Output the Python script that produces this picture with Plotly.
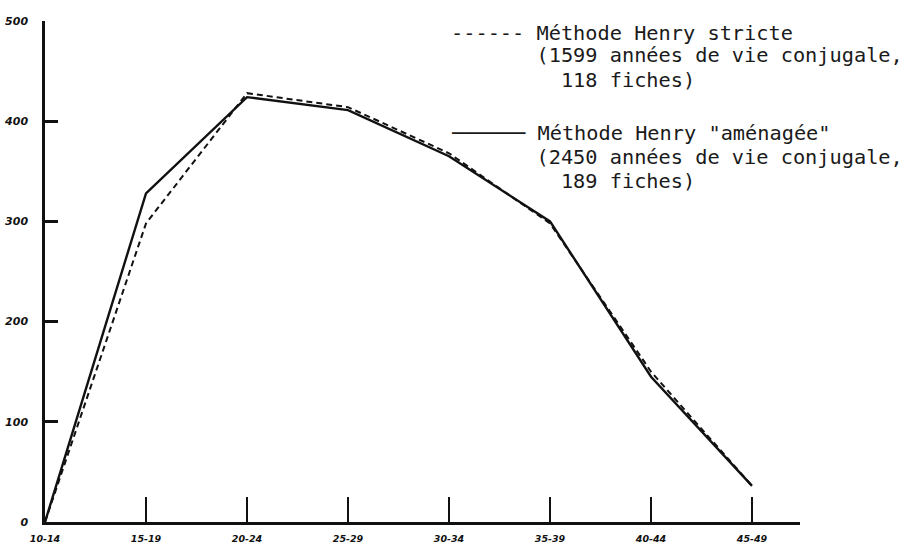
import plotly.graph_objects as go

age_groups = ["10-14", "15-19", "20-24", "25-29", "30-34", "35-39", "40-44", "45-49"]
stricte = [0, 298, 428, 414, 368, 298, 150, 36]
amenagee = [0, 328, 424, 411, 365, 300, 145, 36]
y_ticks = [0, 100, 200, 300, 400, 500]

legend_lines = [
    "------\u00a0Méthode Henry stricte",
    "\u00a0\u00a0\u00a0\u00a0\u00a0\u00a0\u00a0(1599 années de vie conjugale,",
    "\u00a0\u00a0\u00a0\u00a0\u00a0\u00a0\u00a0\u00a0\u00a0118 fiches)",
    "\u2500\u2500\u2500\u2500\u2500\u2500\u00a0Méthode Henry \"aménagée\"",
    "\u00a0\u00a0\u00a0\u00a0\u00a0\u00a0\u00a0(2450 années de vie conjugale,",
    "\u00a0\u00a0\u00a0\u00a0\u00a0\u00a0\u00a0\u00a0\u00a0189 fiches)",
]

x = list(range(len(age_groups)))

fig = go.Figure()
fig.add_trace(go.Scatter(x=x, y=stricte, mode="lines",
                         line=dict(color="#111111", width=2, dash="6px,4px"),
                         showlegend=False))
fig.add_trace(go.Scatter(x=x, y=amenagee, mode="lines",
                         line=dict(color="#111111", width=2.4),
                         showlegend=False))

L, R, T, B = 45, 117, 21, 25
W, H = 917, 547
pw, ph = W - L - R, H - T - B

def px_x(p):
    return (p - L) / pw

def px_y(p):
    return (H - B - p) / ph

row_y = [33, 55, 80, 133, 157, 181]
for txt, yy in zip(legend_lines, row_y):
    fig.add_annotation(text=txt, xref="paper", yref="paper",
                       x=px_x(450), y=px_y(yy), xanchor="left", yanchor="middle",
                       showarrow=False, align="left", borderpad=0,
                       font=dict(family="DejaVu Sans Mono", size=20.3, color="#1a1a1a"))

fig.update_xaxes(range=[0, 7.475], tickmode="array", tickvals=x, ticktext=age_groups,
                 showline=True, linecolor="#111111", linewidth=2.5,
                 ticks="inside", ticklen=25, tickwidth=2, tickcolor="#111111",
                 showgrid=False, zeroline=False, ticklabelstandoff=6, automargin=False,
                 tickfont=dict(family="DejaVu Sans", size=9.5, color="#111111",
                               style="italic", weight="bold"))
fig.update_yaxes(range=[0, 500], tickmode="array", tickvals=y_ticks,
                 showline=True, linecolor="#111111", linewidth=2.5,
                 ticks="inside", ticklen=13, tickwidth=2.5, tickcolor="#111111",
                 showgrid=False, zeroline=False,
                 ticklabelstandoff=12, automargin=False,
                 tickfont=dict(family="DejaVu Sans", size=11, color="#111111",
                               style="italic", weight="bold"))

fig.update_layout(width=W, height=H, margin=dict(l=L, r=R, t=T, b=B),
                  paper_bgcolor="white", plot_bgcolor="white")

fig.write_html("out.html", config={"displayModeBar": False},
               post_script="document.body.style.margin='0';document.body.style.overflow='hidden';")
